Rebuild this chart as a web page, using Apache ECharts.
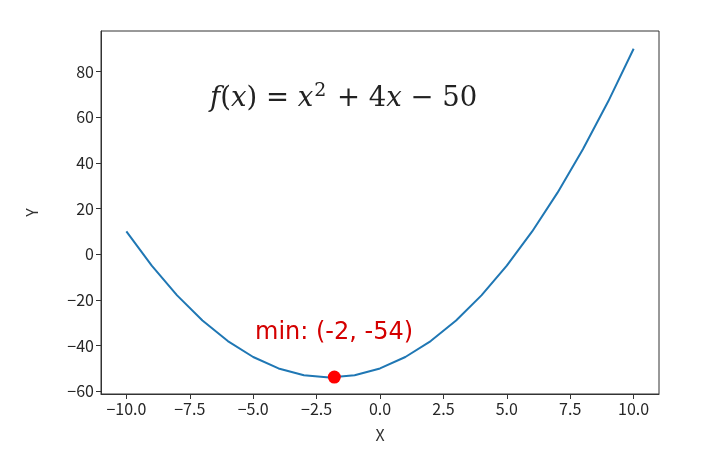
<!DOCTYPE html>
<html>
<head>
<meta charset="utf-8">
<script src="https://cdn.jsdelivr.net/npm/echarts@6/dist/echarts.min.js"></script>
<style>
  html, body { margin: 0; padding: 0; background: #fff; }
  #main { width: 710px; height: 467px; }
</style>
</head>
<body>
<div id="main"></div>
<script>
// values
var xValues = [-10, -9, -8, -7, -6, -5, -4, -3, -2, -1, 0, 1, 2, 3, 4, 5, 6, 7, 8, 9, 10];
var yValues = [10, -5, -18, -29, -38, -45, -50, -53, -54, -53, -50, -45, -38, -29, -18, -5, 10, 27, 46, 67, 90];
var minPoint = [-1.8, -53.8];
var xTicks = [-10, -7.5, -5, -2.5, 0, 2.5, 5, 7.5, 10];
var yTicks = [-60, -40, -20, 0, 20, 40, 60, 80];

var chart = echarts.init(document.getElementById("main"));
var font = "'Noto Sans CJK SC', 'Noto Sans', sans-serif";

function minus(s) {
  return String(s).replace("-", "\u2212");
}

var lineData = xValues.map(function (x, i) {
  return [x, yValues[i]];
});

var axisLine = { show: true, onZero: false, lineStyle: { color: "#333", width: 1 } };
var nameStyle = { color: "#333", fontSize: 16, fontFamily: font };

var option = {
  animation: false,
  grid: {
    left: 101, top: 31, right: 51, bottom: 73,
    show: true, borderColor: "#333", borderWidth: 1, backgroundColor: "#fff"
  },
  xAxis: {
    type: "value",
    min: -11,
    max: 11,
    name: "X",
    nameLocation: "middle",
    nameGap: 33,
    nameTextStyle: nameStyle,
    axisLine: axisLine,
    splitLine: { show: false },
    axisTick: { show: true, length: 5, lineStyle: { color: "#333" }, customValues: xTicks },
    axisLabel: {
      customValues: xTicks,
      color: "#262626",
      fontSize: 16,
      fontFamily: font,
      margin: 7,
      formatter: function (v) { return minus(v.toFixed(1)); }
    }
  },
  yAxis: {
    type: "value",
    min: -61.2,
    max: 97.8,
    name: "Y",
    nameLocation: "middle",
    nameGap: 61,
    nameRotate: 90,
    nameTextStyle: nameStyle,
    axisLine: axisLine,
    splitLine: { show: false },
    axisTick: { show: true, length: 5, lineStyle: { color: "#333" }, customValues: yTicks },
    axisLabel: {
      customValues: yTicks,
      color: "#262626",
      fontSize: 16,
      fontFamily: font,
      margin: 7,
      formatter: function (v) { return minus(v); }
    }
  },
  series: [
    {
      type: "line",
      data: lineData,
      symbol: "none",
      smooth: false,
      lineStyle: { color: "#1f77b4", width: 2 },
      z: 2
    },
    {
      type: "scatter",
      data: [minPoint],
      symbolSize: 13,
      itemStyle: { color: "#ff0000", opacity: 1 },
      z: 3
    }
  ],
  graphic: [
    {
      type: "text",
      left: 210,
      top: 82,
      style: {
        text: "{i|f}{r|(}{i|x}{r|) = }{i|x}{s|2}{r| + 4}{i|x}{r| \u2212 50}",
        rich: {
          i: { fontFamily: "'DejaVu Serif', serif", fontStyle: "italic", fontSize: 27.5, fill: "#222" },
          r: { fontFamily: "'DejaVu Serif', serif", fontSize: 27.5, fill: "#222" },
          s: { fontFamily: "'DejaVu Serif', serif", fontSize: 19, fill: "#222", padding: [0, 2, 15, 1] }
        }
      }
    },
    {
      type: "text",
      left: 255,
      top: 321,
      style: {
        text: "min: (-2, -54)",
        fontFamily: "'DejaVu Sans', sans-serif",
        fontSize: 24,
        fill: "#d40000"
      }
    }
  ]
};

chart.setOption(option);
</script>
</body>
</html>
